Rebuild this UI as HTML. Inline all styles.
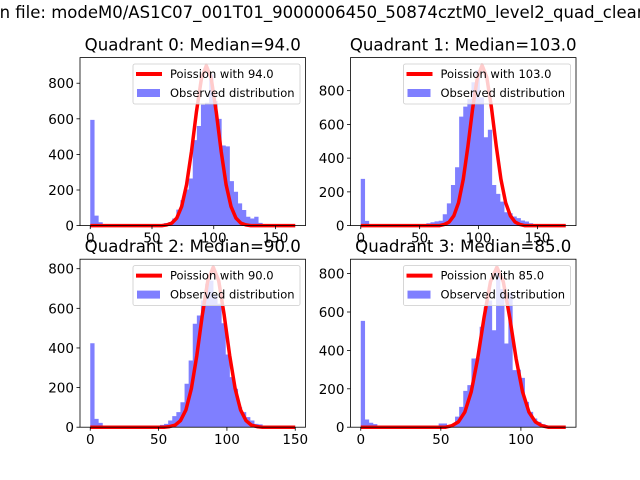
<!DOCTYPE html>
<html><head><meta charset="utf-8"><style>
html,body{margin:0;padding:0;background:#fff;width:640px;height:480px;overflow:hidden}
svg{display:block;font-family:"DejaVu Sans","Liberation Sans",sans-serif}
</style></head><body>
<svg id="fig" width="640" height="480" viewBox="0 0 640 480">
<text x="-5" y="18" font-size="16.5" fill="#000">in file: modeM0/AS1C07_001T01_9000006450_50874cztM0_level2_quad_clean.evt</text>
</svg>
<script>
// Quadrant metadata
const medians = [94.0, 103.0, 90.0, 85.0];
const xMax = [166, 174, 150, 128];
const yTop = [944, 996, 848, 875];
const xTicks = [[0,50,100,150],[0,50,100,150],[0,50,100,150],[0,50,100]];
const yTicks = [[0,200,400,600,800],[0,200,400,600,800],[0,200,400,600,800],[0,200,400,600,800]];
// Histogram counts (50 bins from 0 to xMax)
const hist0 = [594,56,19,3,2,1,1,0,0,0,0,0,0,0,0,3,4,5,14,19,40,90,143,203,265,480,560,680,690,850,700,600,450,445,250,190,125,88,50,40,50,15,8,3,3,2,0,0,0,0];
const hist1 = [277,28,3,1,0,0,0,0,0,0,0,0,0,0,0,3,14,20,25,29,67,132,241,346,646,705,750,850,920,760,524,568,241,188,142,79,73,54,44,30,24,14,5,3,0,0,0,0,0,0];
const hist2 = [424,42,22,2,0,0,0,0,0,0,0,0,0,0,0,0,8,12,17,34,56,76,126,219,337,522,564,640,724,740,665,623,525,367,253,194,101,76,51,34,17,14,5,2,0,0,0,0,0,0];
const hist3 = [554,40,23,16,1,0,0,0,0,0,0,0,0,0,0,0,0,0,0,19,19,5,15,55,106,189,219,358,360,523,626,660,505,818,720,436,700,297,300,257,132,80,45,28,16,4,0,0,0,0];
// Poisson model curves (x values and counts)
const px0 = [0,58,62,66,70,74,78,82,86,90,94,98,102,106,110,114,118,122,126,130,166];
const py0 = [0,0,4,14,42,107,230,418,640,825,899,825,640,418,230,107,42,14,4,0,0];
const px1 = [0,67,71,75,79,83,87,91,95,99,103,107,111,115,119,123,127,131,135,139,174];
const py1 = [0,0,7,21,58,136,274,472,696,879,950,879,696,472,274,136,58,21,7,0,0];
const px2 = [0,54,58,62,66,70,74,78,82,86,90,94,98,102,106,110,114,118,122,126,150];
const py2 = [0,0,3,10,33,87,195,363,566,739,808,739,566,363,195,87,33,10,3,0,0];
const px3 = [0,53,57,61,65,69,73,77,81,85,89,93,97,101,105,109,113,117,128];
const py3 = [0,0,8,28,79,185,357,572,758,833,758,572,357,185,79,28,8,0,0];
const hists = [hist0,hist1,hist2,hist3];
const pxs = [px0,px1,px2,px3];
const pys = [py0,py1,py2,py3];

const NS = "http://www.w3.org/2000/svg";
const fig = document.getElementById('fig');
function mk(tag, attrs, parent){const e=document.createElementNS(NS,tag);for(const k in attrs)e.setAttribute(k,attrs[k]);(parent||fig).appendChild(e);return e;}
const AW = 225.5, AH = 168;
const lefts = [80, 350.5, 80, 350.5];
const tops = [57.6, 57.6, 259.2, 259.2];

for (let q=0;q<4;q++){
  const L=lefts[q], T=tops[q], B=T+AH;
  const M=xMax[q];
  const x0=-0.05*M, x1=1.05*M;
  const sx=v=>L+(v-x0)/(x1-x0)*AW;
  const sy=v=>B-v/yTop[q]*AH;
  const g=mk('g',{});
  
  
  const clipId='clip'+q;
  const cp=mk('clipPath',{id:clipId},g);
  mk('rect',{x:L,y:T,width:AW,height:AH},cp);
  const h=hists[q]; const bw=M/h.length;
  let d='';
  h.forEach((c,i)=>{
    if(c<=0)return;
    const xa=sx(i*bw), xb=sx((i+1)*bw), yt=sy(c);
    d+='M'+xa.toFixed(2)+','+B+'V'+yt.toFixed(2)+'H'+(xb+0.2).toFixed(2)+'V'+B+'Z';
  });
  const bars=mk('path',{d:d,fill:'#0000ff','fill-opacity':0.5,'clip-path':'url(#'+clipId+')'},g);
  
  
  const pts=pxs[q].map((x,i)=>sx(x).toFixed(2)+','+sy(pys[q][i]).toFixed(2)).join(' ');
  const pl=mk('polyline',{points:pts,fill:'none',stroke:'#ff0000','stroke-width':3.5,'stroke-linejoin':'round'},g);
  
  
  const fr=mk('rect',{x:L,y:T,width:AW,height:AH,fill:'none',stroke:'#000','stroke-width':0.8},g);
  
  
  xTicks[q].forEach(t=>{
    const x=sx(t);
    mk('line',{x1:x,x2:x,y1:B,y2:B+3.5,stroke:'#000','stroke-width':0.8},g);
    const tx=mk('text',{x:x,y:B+17,'font-size':13.5,'text-anchor':'middle'},g);
    tx.textContent=t;
    
    
  });
  yTicks[q].forEach(t=>{
    const y=sy(t);
    mk('line',{x1:L,x2:L-3.5,y1:y,y2:y,stroke:'#000','stroke-width':0.8},g);
    const tx=mk('text',{x:L-6,y:y+5,'font-size':13.5,'text-anchor':'end'},g);
    tx.textContent=t;
    
    
  });
  const ti=mk('text',{x:L+AW/2,y:T-7,'font-size':16.6,'text-anchor':'middle'},g);
  ti.textContent='Quadrant '+q+': Median='+medians[q].toFixed(1);
  
  
  const lg=mk('g',{},g);
  
  
  const lx=L+AW-172.5, ly=T+6.4;
  mk('rect',{x:lx,y:ly,width:167,height:40,rx:2,fill:'#fff','fill-opacity':0.8,stroke:'#ccc','stroke-width':0.8},lg);
  mk('line',{x1:lx+3,x2:lx+29,y1:ly+10,y2:ly+10,stroke:'#ff0000','stroke-width':4},lg);
  const t1=mk('text',{x:lx+37,y:ly+14,'font-size':11.5},lg);
  t1.textContent='Poission with '+medians[q].toFixed(1);
  
  
  mk('rect',{x:lx+4,y:ly+25,width:23,height:8,fill:'#0000ff','fill-opacity':0.5},lg);
  const t2=mk('text',{x:lx+37,y:ly+33,'font-size':11.5},lg);
  t2.textContent='Observed distribution';
  
  
}
</script>
</body></html>
